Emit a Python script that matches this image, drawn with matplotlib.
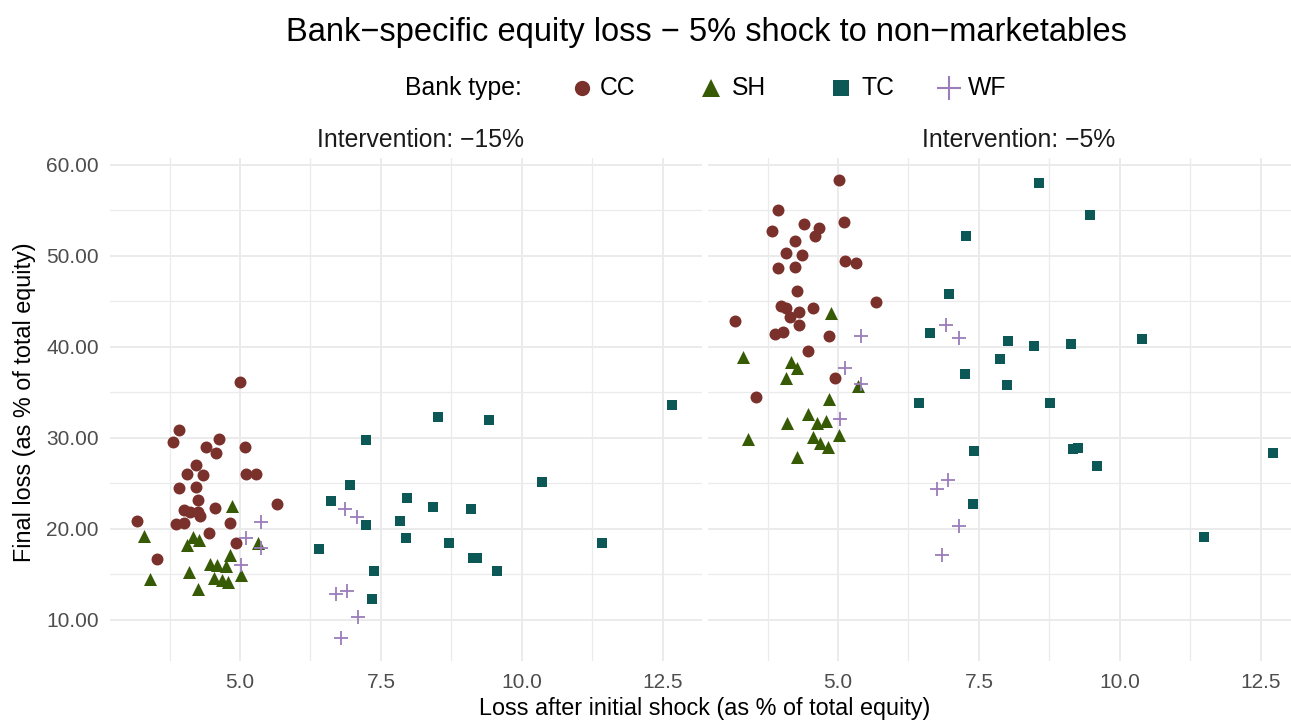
import matplotlib
matplotlib.use("Agg")
import matplotlib.pyplot as plt
from matplotlib.lines import Line2D
import numpy as np

plt.rcParams["font.family"] = ["Liberation Sans", "DejaVu Sans"]

# ---- data ----
panels = ["Intervention: \u221215%", "Intervention: \u22125%"]
bank_types = ["CC", "SH", "TC", "WF"]

# panel 1: intervention -15%
cc_x_15 = [5.00, 3.92, 3.81, 4.63, 4.39, 4.57, 5.08, 4.22, 4.05, 4.34, 5.11, 5.28, 3.92, 4.22,
           4.25, 5.65, 4.55, 4.00, 4.12, 4.26, 4.29, 3.17, 3.87, 4.00, 4.82, 4.45, 4.92, 3.53]
cc_y_15 = [36.1, 30.9, 29.6, 29.9, 29.0, 28.3, 29.0, 27.0, 26.0, 25.9, 26.0, 26.0, 24.5, 24.6,
           23.2, 22.7, 22.3, 22.1, 21.9, 21.9, 21.4, 20.9, 20.5, 20.7, 20.7, 19.6, 18.5, 16.7]
sh_x_15 = [4.85, 3.29, 4.16, 4.27, 4.06, 5.32, 4.82, 4.46, 4.59, 4.75, 4.09, 5.01, 4.53, 4.68,
           4.79, 3.41, 4.25]
sh_y_15 = [22.5, 19.2, 19.15, 18.8, 18.2, 18.5, 17.1, 16.2, 16.0, 15.9, 15.3, 14.9, 14.6, 14.4,
           14.2, 14.5, 13.4]
tc_x_15 = [8.52, 9.42, 7.24, 10.36, 6.95, 6.62, 7.97, 8.43, 9.10, 7.24, 7.84, 7.95, 11.42, 8.71,
           6.40, 9.13, 9.20, 9.56, 7.37, 7.34, 12.66]
tc_y_15 = [32.3, 32.0, 29.8, 25.2, 24.8, 23.1, 23.4, 22.4, 22.2, 20.4, 20.9, 19.05, 18.5, 18.5,
           17.8, 16.85, 16.85, 15.4, 15.4, 12.3, 33.6]
wf_x_15 = [5.38, 5.11, 5.38, 5.01, 6.86, 7.08, 6.70, 6.90, 7.09, 6.80]
wf_y_15 = [20.8, 19.0, 17.95, 16.0, 22.2, 21.3, 12.9, 13.2, 10.3, 8.05]

# panel 2: intervention -5%
cc_x_5 = [5.02, 3.93, 5.10, 4.40, 4.66, 4.59, 3.83, 4.23, 4.07, 4.36, 5.12, 5.31, 3.94, 4.24,
          4.27, 5.67, 3.98, 4.07, 4.31, 4.56, 4.15, 3.18, 4.30, 3.88, 4.03, 4.84, 4.46, 4.94, 3.54]
cc_y_5 = [58.3, 55.05, 53.7, 53.5, 53.1, 52.2, 52.7, 51.6, 50.3, 50.15, 49.5, 49.2, 48.7, 48.75,
          46.1, 44.95, 44.55, 44.25, 43.85, 44.3, 43.3, 42.9, 42.45, 41.4, 41.7, 41.2, 39.6, 36.6, 34.5]
sh_x_5 = [4.87, 3.31, 4.17, 4.27, 4.07, 5.36, 4.84, 4.47, 4.10, 4.62, 4.78, 3.41, 5.02, 4.56,
          4.68, 4.82, 4.27]
sh_y_5 = [43.7, 38.9, 38.3, 37.7, 36.6, 35.7, 34.25, 32.6, 31.6, 31.7, 31.9, 29.9, 30.3, 30.1,
          29.4, 29.05, 27.9]
tc_x_5 = [8.57, 9.47, 7.27, 6.97, 6.64, 8.02, 8.48, 9.13, 10.40, 7.87, 7.26, 8.00, 6.43, 8.77,
          7.41, 9.17, 9.25, 12.72, 9.59, 7.39, 11.50]
tc_y_5 = [58.0, 54.5, 52.2, 45.8, 41.5, 40.7, 40.15, 40.3, 40.9, 38.65, 37.0, 35.8, 33.9, 33.8,
          28.6, 28.8, 28.95, 28.35, 26.9, 22.8, 19.15]
wf_x_5 = [5.40, 5.12, 5.40, 5.03, 6.91, 7.14, 6.96, 6.75, 7.15, 6.85]
wf_y_5 = [41.2, 37.65, 35.9, 32.05, 42.4, 41.0, 25.4, 24.4, 20.3, 17.1]

x_ticks = [5.0, 7.5, 10.0, 12.5]
y_ticks = [10, 20, 30, 40, 50, 60]

# ---- styling ----
colors = {"CC": "#7A302B", "SH": "#375A04", "TC": "#0B5857", "WF": "#9A7DBA"}
markers = {"CC": "o", "SH": "^", "TC": "s", "WF": "+"}
sizes = {"CC": 74, "SH": 88, "TC": 58, "WF": 110}
grid_col = "#EBEBEB"

data = [
    {"CC": (cc_x_15, cc_y_15), "SH": (sh_x_15, sh_y_15), "TC": (tc_x_15, tc_y_15), "WF": (wf_x_15, wf_y_15)},
    {"CC": (cc_x_5, cc_y_5), "SH": (sh_x_5, sh_y_5), "TC": (tc_x_5, tc_y_5), "WF": (wf_x_5, wf_y_5)},
]

# shared scales with ggplot-like 5% expansion
all_x = np.concatenate([np.asarray(d[b][0]) for d in data for b in bank_types])
all_y = np.concatenate([np.asarray(d[b][1]) for d in data for b in bank_types])
xr = all_x.max() - all_x.min()
yr = all_y.max() - all_y.min()
xlim = (all_x.min() - 0.05 * xr, all_x.max() + 0.05 * xr)
ylim = (all_y.min() - 0.05 * yr, all_y.max() + 0.05 * yr)

W, H = 1291, 722
fig = plt.figure(figsize=(W / 100, H / 100), dpi=100)

panel_left = [110, 708]
panel_w = 592
panel_top, panel_bot = 157.6, 660.6

for i, (title, d) in enumerate(zip(panels, data)):
    ax = fig.add_axes([panel_left[i] / W, 1 - panel_bot / H, panel_w / W, (panel_bot - panel_top) / H])
    for b in bank_types:
        x, y = d[b]
        if b == "WF":
            ax.scatter(x, y, marker=markers[b], s=sizes[b], color=colors[b], linewidths=1.3, zorder=3)
        else:
            ax.scatter(x, y, marker=markers[b], s=sizes[b], color=colors[b], linewidths=0, zorder=3)
    ax.set_xlim(xlim)
    ax.set_ylim(ylim)
    for s in ax.spines.values():
        s.set_visible(False)
    ax.set_xticks(x_ticks)
    ax.set_xticklabels([f"{v:.1f}" for v in x_ticks])
    ax.set_xticks([v - 1.25 for v in x_ticks], minor=True)
    ax.set_yticks(y_ticks)
    ax.set_yticks([v + 5 for v in y_ticks[:-1]], minor=True)
    if i == 0:
        ax.set_yticklabels([f"{v:.2f}" for v in y_ticks])
    else:
        ax.set_yticklabels([])
    ax.tick_params(which="both", length=0, labelsize=15, labelcolor="#4D4D4D")
    ax.tick_params(axis="x", pad=9)
    ax.tick_params(axis="y", pad=8)
    ax.grid(which="major", color=grid_col, linewidth=1.4, zorder=0)
    ax.grid(which="minor", color=grid_col, linewidth=0.9, zorder=0)
    ax.set_axisbelow(True)
    ax.text(0.524, 1 + (panel_top - 140) / (panel_bot - panel_top), title, transform=ax.transAxes,
            ha="center", va="center", fontsize=17.8, color="#1A1A1A")

# title
fig.text(706 / W, 1 - 33 / H, "Bank\u2212specific equity loss \u2212 5% shock to non\u2212marketables",
         ha="center", va="center", fontsize=23.5)

# legend (keys drawn in figure coordinates)
leg_y = 1 - 88 / H
fig.text(405 / W, leg_y, "Bank type:", ha="left", va="center", fontsize=17.8)
key_x = [582, 711, 841, 949]
lab_x = [600, 732, 861, 968]
key_ms = {"CC": 11, "SH": 13.5, "TC": 11, "WF": 17}
for b, kx, lx in zip(bank_types, key_x, lab_x):
    fig.add_artist(Line2D([kx / W], [leg_y], marker=markers[b], markersize=key_ms[b], color=colors[b],
                          markeredgewidth=1.5 if b == "WF" else 0, linestyle="none",
                          transform=fig.transFigure))
    fig.text(lx / W, leg_y, b, ha="left", va="center", fontsize=17.8)

# axis titles
fig.text(705 / W, 1 - 709 / H, "Loss after initial shock (as % of total equity)",
         ha="center", va="center", fontsize=16.8)
fig.text(25 / W, 1 - 402 / H, "Final loss (as % of total equity)",
         ha="center", va="center", rotation=90, fontsize=16.8)

fig.savefig("out.png", dpi=100)
